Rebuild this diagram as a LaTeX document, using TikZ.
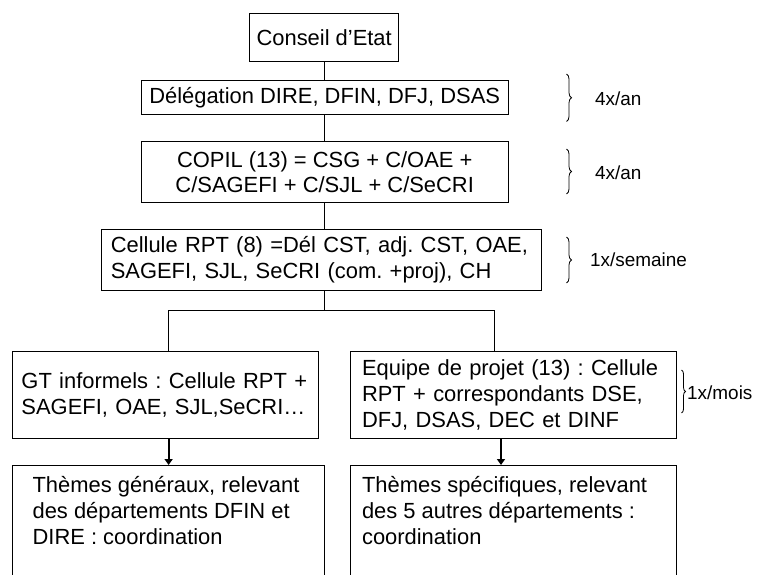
\documentclass[tikz,border=0pt]{standalone}
\usepackage{fontspec}
\setmainfont{Liberation Sans}
\frenchspacing
\usetikzlibrary{decorations.pathreplacing,arrows.meta}
\begin{document}
\begin{tikzpicture}[x=1bp,y=-1bp,
  box/.style={draw,line width=1bp,inner sep=0pt,font=\fontsize{22}{26}\selectfont\frenchspacing},
  lbox/.style={box,align=left},
  lbl/.style={font=\fontsize{19}{23}\selectfont,anchor=west,inner sep=0pt},
  brc/.style={decorate,decoration={brace,amplitude=5bp},line width=0.8bp},
  conn/.style={line width=1bp},
  arr/.style={line width=2bp,-{Triangle[length=6bp,width=8bp]}}]
\useasboundingbox (0,0) rectangle (758,575);
\clip (0,0) rectangle (758,575);

\node[box,minimum width=148.5bp,minimum height=47.7bp] (conseil) at (324.2,37.2) {Conseil d’Etat};
\node[box,minimum width=366.6bp,minimum height=34bp] (deleg) at (324.7,97.7) {Délégation DIRE, DFIN, DFJ, DSAS};
\node[box,align=center,minimum width=366.6bp,minimum height=61bp] (copil) at (324.7,172.2) {COPIL (13) = CSG + C/OAE +\\C/SAGEFI + C/SJL + C/SeCRI};
\node[lbox,text width=421.8bp,inner xsep=9.2bp,minimum height=60.7bp] (cellule) at (321.7,259.7) {Cellule RPT (8) =Dél CST, adj. CST, OAE,\\SAGEFI, SJL, SeCRI (com. +proj), CH};
\node[lbox,text width=288bp,inner xsep=8.85bp,minimum height=87.3bp] (gt) at (165.5,394.7) {GT informels : Cellule RPT +\\SAGEFI, OAE, SJL,SeCRI…};
\node[lbox,text width=303.7bp,inner xsep=11.2bp,minimum height=87.3bp] (equipe) at (513.9,394.7) {Equipe de projet (13) : Cellule\\RPT + correspondants DSE,\\DFJ, DSAS, DEC et DINF};
\node[box,anchor=north,inner xsep=20bp] (themesL) at (168.3,465) {\parbox[c][150bp][t]{271.4bp}{\raggedright\rule{0pt}{26.7bp}Thèmes généraux, relevant\\des départements DFIN et\\DIRE : coordination}};
\node[box,anchor=north,inner xsep=11.2bp] (themesR) at (513.9,465) {\parbox[c][150bp][t]{303.7bp}{\raggedright\rule{0pt}{26.7bp}Thèmes spécifiques, relevant\\des 5 autres départements :\\coordination}};

% connectors
\coordinate (bc) at (324,310.7);
\coordinate (bl) at (168.6,310.7);
\coordinate (brr) at (494.2,310.7);
\coordinate (ar) at (501,0);
\draw[conn] (conseil.south -| bc) -- (deleg.north -| bc);
\draw[conn] (deleg.south -| bc) -- (copil.north -| bc);
\draw[conn] (copil.south -| bc) -- (cellule.north -| bc);
\draw[conn] (cellule.south -| bc) -- (bc);
\draw[conn] (gt.north -| bl) -- (bl) -- (brr) -- (equipe.north -| brr);
\draw[arr] (gt.south -| bl) -- (themesL.north -| bl);
\draw[arr] (equipe.south -| ar) -- (themesR.north -| ar);

% braces and frequencies
\coordinate (b1a) at (566.5,74);   \coordinate (b1b) at (566.5,121.5);
\coordinate (b2a) at (566.5,149);  \coordinate (b2b) at (566.5,194);
\coordinate (b3a) at (566.5,237);  \coordinate (b3b) at (566.5,283);
\coordinate (b4a) at (681.5,370);  \coordinate (b4b) at (681.5,413);
\draw[brc] (b1a) -- (b1b);
\draw[brc] (b2a) -- (b2b);
\draw[brc] (b3a) -- (b3b);
\draw[brc,decoration={amplitude=4bp}] (b4a) -- (b4b);
\node[lbl] (f1) at (595,99) {4x/an};
\node[lbl] (f2) at (595,172.7) {4x/an};
\node[lbl] (f3) at (590,260) {1x/semaine};
\node[lbl] (f4) at (687,393) {1x/mois};
\end{tikzpicture}
\end{document}
